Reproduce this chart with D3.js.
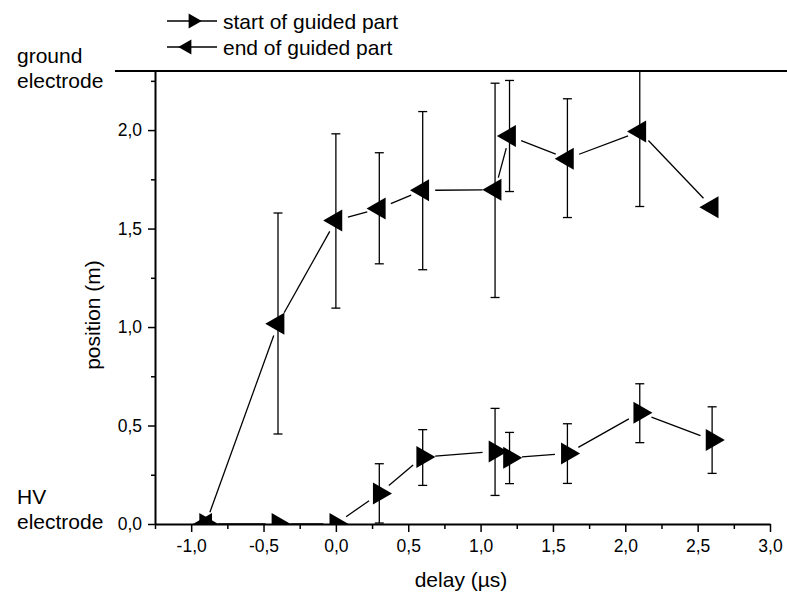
<!DOCTYPE html>
<html>
<head>
<meta charset="utf-8">
<script src="https://cdn.jsdelivr.net/npm/d3@7"></script>
<style>
    body { margin: 0; background: #fff; }
    svg { display: block; font-family: "Liberation Sans", Arial, sans-serif; }
</style>
</head>
<body>
<div id="svg-container"></div>
<script>
// Delay of the second pulse (µs).
const delays = [-0.9, -0.4, 0.0, 0.3, 0.6, 1.1, 1.2, 1.6, 2.1, 2.6];

// Start of guided part (m) with lower / upper end of the error bar.
const startPos = [0, 0, 0, 0.155, 0.34, 0.368, 0.336, 0.358, 0.565, 0.426];
const startLow = [null, null, null, 0.005, 0.196, 0.145, 0.205, 0.206, 0.413, 0.257];
const startHigh = [null, null, null, 0.306, 0.479, 0.587, 0.465, 0.509, 0.712, 0.595];

// End of guided part (m).
const endPos = [0, 1.017, 1.541, 1.602, 1.694, 1.697, 1.970, 1.855, 1.993, 1.608];
const endLow = [null, 0.457, 1.096, 1.321, 1.291, 1.15, 1.688, 1.556, 1.612, 1.59];
const endHigh = [null, 1.579, 1.981, 1.885, 2.094, 2.238, 2.252, 2.159, 2.40, 1.625];

const xMajor = [-1.0, -0.5, 0.0, 0.5, 1.0, 1.5, 2.0, 2.5, 3.0];
const xMinor = [-1.25, -0.75, -0.25, 0.25, 0.75, 1.25, 1.75, 2.25, 2.75];
const yMajor = [0.0, 0.5, 1.0, 1.5, 2.0];
const yMinor = [0.25, 0.75, 1.25, 1.75, 2.25];

const legendLabels = ['start of guided part', 'end of guided part'];

const width = 787, height = 604;
const x = d3.scaleLinear().domain([-1.25, 3.0]).range([155, 770]);
const y = d3.scaleLinear().domain([0, 2.3]).range([524, 71]);

const fmt = (v) => v.toFixed(1).replace('.', ',');

const svg = d3.select('#svg-container')
    .append('svg')
    .attr('width', width)
    .attr('height', height);

svg.append('defs')
    .append('clipPath')
    .attr('id', 'plot-clip')
    .append('rect')
    .attr('x', x.range()[0])
    .attr('y', y.range()[1])
    .attr('width', x.range()[1] - x.range()[0])
    .attr('height', y.range()[0] - y.range()[1]);

const plot = svg.append('g').attr('clip-path', 'url(#plot-clip)');

const triangle = d3.symbol().type(d3.symbolTriangle).size(210);
const smallTriangle = d3.symbol().type(d3.symbolTriangle).size(100);

function makeSeries(pos, low, high) {
    return delays.map((d, i) => ({ x: d, y: pos[i], lo: low[i], hi: high[i] }));
}

const series = [
    { data: makeSeries(startPos, startLow, startHigh), rotate: 90 },
    { data: makeSeries(endPos, endLow, endHigh), rotate: -90 }
];

// Lines between markers stop short of each marker (Origin style gap).
const gap = 12.5;
function gappedSegments(data) {
    let segs = [];
    for (let i = 1; i < data.length; i++) {
        const x1 = x(data[i - 1].x), y1 = y(data[i - 1].y);
        const x2 = x(data[i].x), y2 = y(data[i].y);
        const len = Math.hypot(x2 - x1, y2 - y1);
        if (len <= 2 * gap) continue;
        const ux = (x2 - x1) / len, uy = (y2 - y1) / len;
        segs.push([x1 + ux * gap, y1 + uy * gap, x2 - ux * gap, y2 - uy * gap]);
    }
    return segs;
}

series.forEach((s) => {
    const g = plot.append('g');

    g.selectAll('line.link')
        .data(gappedSegments(s.data))
        .join('line')
        .attr('class', 'link')
        .attr('x1', (d) => d[0]).attr('y1', (d) => d[1])
        .attr('x2', (d) => d[2]).attr('y2', (d) => d[3])
        .attr('stroke', '#000')
        .attr('stroke-width', 1.3);

    const bars = s.data.filter((d) => d.lo !== null);
    const err = g.selectAll('g.err').data(bars).join('g').attr('class', 'err');
    err.append('line')
        .attr('x1', (d) => x(d.x)).attr('x2', (d) => x(d.x))
        .attr('y1', (d) => y(d.lo)).attr('y2', (d) => y(d.hi));
    err.append('line')
        .attr('x1', (d) => x(d.x) - 4.5).attr('x2', (d) => x(d.x) + 4.5)
        .attr('y1', (d) => y(d.lo)).attr('y2', (d) => y(d.lo));
    err.append('line')
        .attr('x1', (d) => x(d.x) - 4.5).attr('x2', (d) => x(d.x) + 4.5)
        .attr('y1', (d) => y(d.hi)).attr('y2', (d) => y(d.hi));
    err.selectAll('line').attr('stroke', '#000').attr('stroke-width', 1.3);

    g.selectAll('path.marker')
        .data(s.data)
        .join('path')
        .attr('class', 'marker')
        .attr('d', triangle)
        .attr('transform', (d) => `translate(${x(d.x)},${y(d.y)}) rotate(${s.rotate})`)
        .attr('fill', '#000');
});

// Axes.
const xAxis = svg.append('g')
    .attr('transform', `translate(0,${y(0)})`)
    .call(d3.axisBottom(x).tickValues(xMajor).tickSize(8).tickSizeOuter(0).tickPadding(8).tickFormat(fmt));
svg.append('g')
    .attr('transform', `translate(0,${y(0)})`)
    .call(d3.axisBottom(x).tickValues(xMinor).tickSize(5).tickSizeOuter(0).tickFormat(''))
    .select('.domain').remove();

const yAxis = svg.append('g')
    .attr('transform', `translate(${x.range()[0]},0)`)
    .call(d3.axisLeft(y).tickValues(yMajor).tickSize(7).tickSizeOuter(0).tickPadding(6).tickFormat(fmt));
svg.append('g')
    .attr('transform', `translate(${x.range()[0]},0)`)
    .call(d3.axisLeft(y).tickValues(yMinor).tickSize(4).tickSizeOuter(0).tickFormat(''))
    .select('.domain').remove();

svg.selectAll('.domain').attr('stroke-width', 2);
svg.selectAll('.tick line').attr('stroke-width', 1.5);
svg.selectAll('.tick text')
    .attr('font-size', 17.5)
    .attr('font-family', '"Liberation Sans", Arial, sans-serif')
    .attr('fill', '#000');

// Ground electrode line at the top of the gap.
svg.append('line')
    .attr('x1', 115).attr('x2', width)
    .attr('y1', y(2.3)).attr('y2', y(2.3))
    .attr('stroke', '#000')
    .attr('stroke-width', 2);

// Axis titles and electrode labels.
svg.append('text')
    .attr('x', 461).attr('y', 587)
    .attr('text-anchor', 'middle')
    .attr('font-size', 21)
    .text('delay (µs)');

svg.append('text')
    .attr('transform', 'translate(100,315) rotate(-90)')
    .attr('text-anchor', 'middle')
    .attr('font-size', 21)
    .text('position (m)');

const sideLabels = [['ground', 63], ['electrode', 88], ['HV', 504], ['electrode', 529]];
svg.selectAll('text.side')
    .data(sideLabels)
    .join('text')
    .attr('class', 'side')
    .attr('x', 17)
    .attr('y', (d) => d[1])
    .attr('font-size', 21)
    .text((d) => d[0]);

// Legend.
const legend = svg.append('g').classed('legend-items', true);
legendLabels.forEach((label, i) => {
    const ly = 21 + i * 26;
    legend.append('line')
        .attr('x1', 167).attr('x2', 217)
        .attr('y1', ly).attr('y2', ly)
        .attr('stroke', '#000')
        .attr('stroke-width', 1.3);
    legend.append('path')
        .attr('d', smallTriangle)
        .attr('transform', `translate(${i === 0 ? 193 : 187},${ly}) rotate(${series[i].rotate})`)
        .attr('fill', '#000');
    legend.append('text')
        .attr('x', 223)
        .attr('y', ly + 7.5)
        .attr('font-size', 21)
        .text(label);
});
</script>
</body>
</html>
